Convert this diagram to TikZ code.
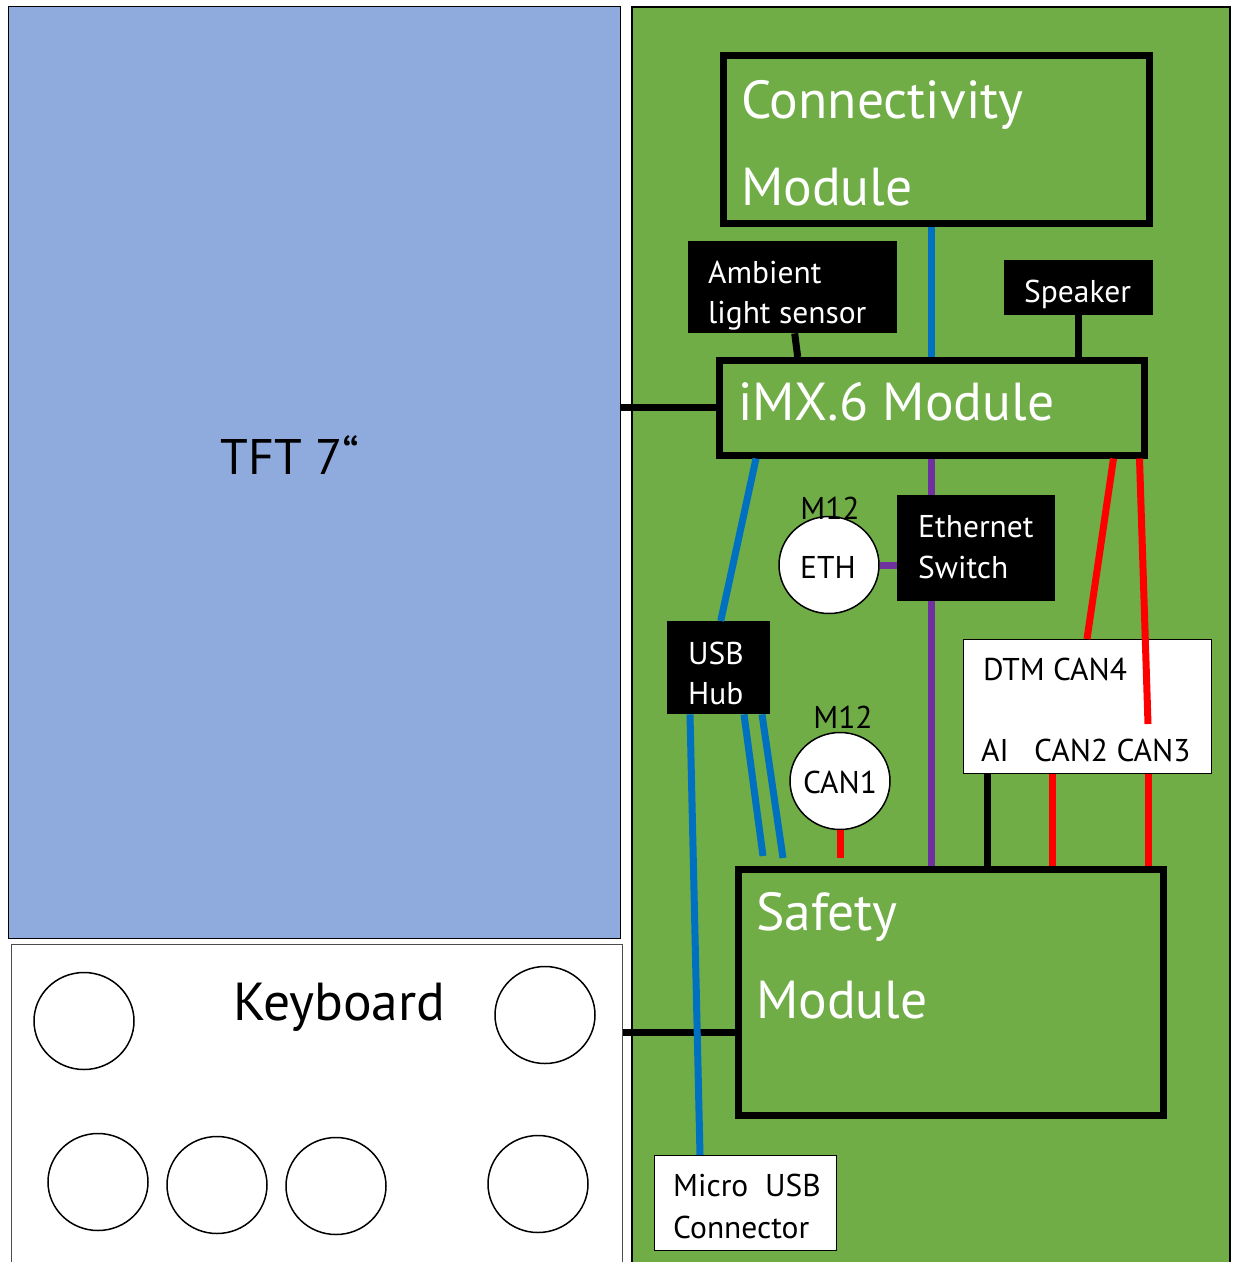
\documentclass[tikz,border=0pt]{standalone}
\usepackage{fontspec}
\setmainfont{PT Sans}
\usetikzlibrary{shapes.geometric}

\definecolor{boardgreen}{HTML}{70AD47}
\definecolor{tftblue}{HTML}{8FAADC}
\definecolor{usbline}{HTML}{0070C0}
\definecolor{ethline}{HTML}{7030A0}
\definecolor{canline}{HTML}{FF0000}

\tikzset{
  modbox/.style={draw, line width=6.5pt, anchor=north west, inner sep=0pt},
  blkbox/.style={fill=black, anchor=north west, inner sep=0pt},
  whtbox/.style={draw, fill=white, line width=1pt, anchor=north west, inner sep=0pt},
  port/.style={ellipse, draw, fill=white, line width=1.5pt, minimum width=100pt, minimum height=97pt, inner sep=0pt},
  big/.style={font=\fontsize{53.5}{87}\selectfont, anchor=base west, inner sep=0pt},
  small/.style={font=\fontsize{31.5}{41}\selectfont, anchor=base west, inner sep=0pt},
  wire/.style={line width=7pt},
}

\begin{document}
\begin{tikzpicture}[x=1pt, y=-1pt]
\useasboundingbox (0,0) rectangle (1233,1262);
%\draw[help lines] (0,0) grid (1233,1262);
% panels
\node (tft) [draw, fill=tftblue, line width=1pt, anchor=north west, minimum width=612pt, minimum height=932pt] at (8,6) {};
\node (kbd) [draw=black!70, fill=white, line width=1pt, anchor=north west, minimum width=611pt, minimum height=340pt] at (11,944) {};
\node (board) [draw, fill=boardgreen, line width=2pt, anchor=north west, minimum width=598pt, minimum height=1280pt] at (631,6) {};
\node (tfttext) [font=\fontsize{50}{60}\selectfont] at (290,455) {TFT 7“};
\node (kbdtext) [big] at (233,1020) {Keyboard};
% keys
\node (k1) [port] at (84,1021) {};
\node (k2) [port] at (545,1015) {};
\node (k3) [port] at (98,1182) {};
\node (k4) [port] at (217,1185) {};
\node (k5) [port] at (336,1186) {};
\node (k6) [port] at (538,1184) {};
% modules
\node (conn) [modbox, minimum width=426pt, minimum height=168pt] at (720,52) {};
\node (conntext) [big, white] at (741,118) {Connectivity};
\node (conntext2) [big, white] at (741,205) {Module};
\node (imx) [modbox, minimum width=425pt, minimum height=95pt] at (716,357) {};
\node (imxtext) [big, white] at (738,420) {iMX.6 Module};
\node (safe) [modbox, minimum width=425pt, minimum height=246pt] at (735,866) {};
\node (safetext) [big, white] at (756,930) {Safety};
\node (safetext2) [big, white] at (756,1018) {Module};
% black boxes
\node (amb) [blkbox, minimum width=209pt, minimum height=92pt] at (688,241) {};
\node (ambtext) [small, white] at (708,283) {Ambient};
\node (ambtext2) [small, white] at (708,323) {light sensor};
\node (spk) [blkbox, minimum width=149pt, minimum height=55pt] at (1004,260) {};
\node (spktext) [small, white] at (1024,302) {Speaker};
\node (sw) [blkbox, minimum width=158pt, minimum height=106pt] at (897,495) {};
\node (swtext) [small, white] at (918,537) {Ethernet};
\node (swtext2) [small, white] at (918,578) {Switch};
\node (usb) [blkbox, minimum width=103pt, minimum height=93pt] at (667,621) {};
\node (usbtext) [small, white] at (688,664) {USB};
\node (usbtext2) [small, white] at (688,704) {Hub};
% white boxes
\node (dtm) [whtbox, minimum width=248pt, minimum height=134pt] at (963,639) {};
\node (dtmtext) [small] at (983,680) {DTM CAN4};
\node (aitext) [small] at (981,761) {AI};
\node (cantext) [small] at (1034,761) {CAN2 CAN3};
\node (micro) [whtbox, minimum width=182pt, minimum height=95pt] at (654,1155) {};
\node (microtext) [small] at (673,1196) {Micro\ \ USB};
\node (microtext2) [small] at (673,1238) {Connector};
% M12 ports
\node (eth) [port] at (829,565) {};
\node (ethtext) [small, anchor=base] at (828,578) {ETH};
\node (m12a) [small, anchor=base] at (830,519) {M12};
\node (can1) [port] at (840,781) {};
\node (can1text) [small, anchor=base] at (840,793) {CAN1};
\node (m12b) [small, anchor=base] at (843,728) {M12};
% wires
\draw[wire] (tft.east |- imx.west) -- (imx.west);
\draw[wire] ([yshift=-40pt]safe.west) -- ([yshift=-40pt]safe.west -| kbd.east);
\draw[wire, usbline] ([xshift=-5pt]conn.south) -- ([xshift=-5pt]conn.south |- imx.north);
\draw[wire] ([xshift=2pt]amb.south) -- ([xshift=5pt]amb.south |- imx.north);
\draw[wire] (spk.south) -- (spk.south |- imx.north);
\draw[wire, usbline] ([xshift=40pt]imx.south west) -- ([xshift=2pt]usb.north);
\draw[wire, ethline] ([xshift=34pt]sw.north west |- imx.south) -- ([xshift=34pt]sw.north west);
\draw[wire, ethline] (eth.east) -- (eth.east -| sw.west);
\draw[wire, ethline] ([xshift=34pt]sw.south west) -- ([xshift=34pt]sw.south west |- safe.north);
\draw[wire, canline] ([xshift=-34pt]imx.south east) -- ([xshift=124pt]dtm.north west);
\draw[wire, canline] ([xshift=-8pt]imx.south east) -- ([xshift=185pt, yshift=-85pt]dtm.north west);
\draw[wire, usbline] ([xshift=23pt]usb.south west) -- ([xshift=46pt]micro.north west);
\draw[wire, usbline] ([xshift=77pt]usb.south west) -- ([xshift=28pt, yshift=10pt]safe.north west);
\draw[wire, usbline] ([xshift=95pt]usb.south west) -- ([xshift=48pt, yshift=8pt]safe.north west);
\draw[wire, canline] (can1.south) -- ([yshift=8pt]can1.south |- safe.north);
\draw[wire] ([xshift=24pt]dtm.south west) -- ([xshift=24pt]dtm.south west |- safe.north);
\draw[wire, canline] ([xshift=89pt]dtm.south west) -- ([xshift=89pt]dtm.south west |- safe.north);
\draw[wire, canline] ([xshift=185pt]dtm.south west) -- ([xshift=185pt]dtm.south west |- safe.north);
\end{tikzpicture}
\end{document}
